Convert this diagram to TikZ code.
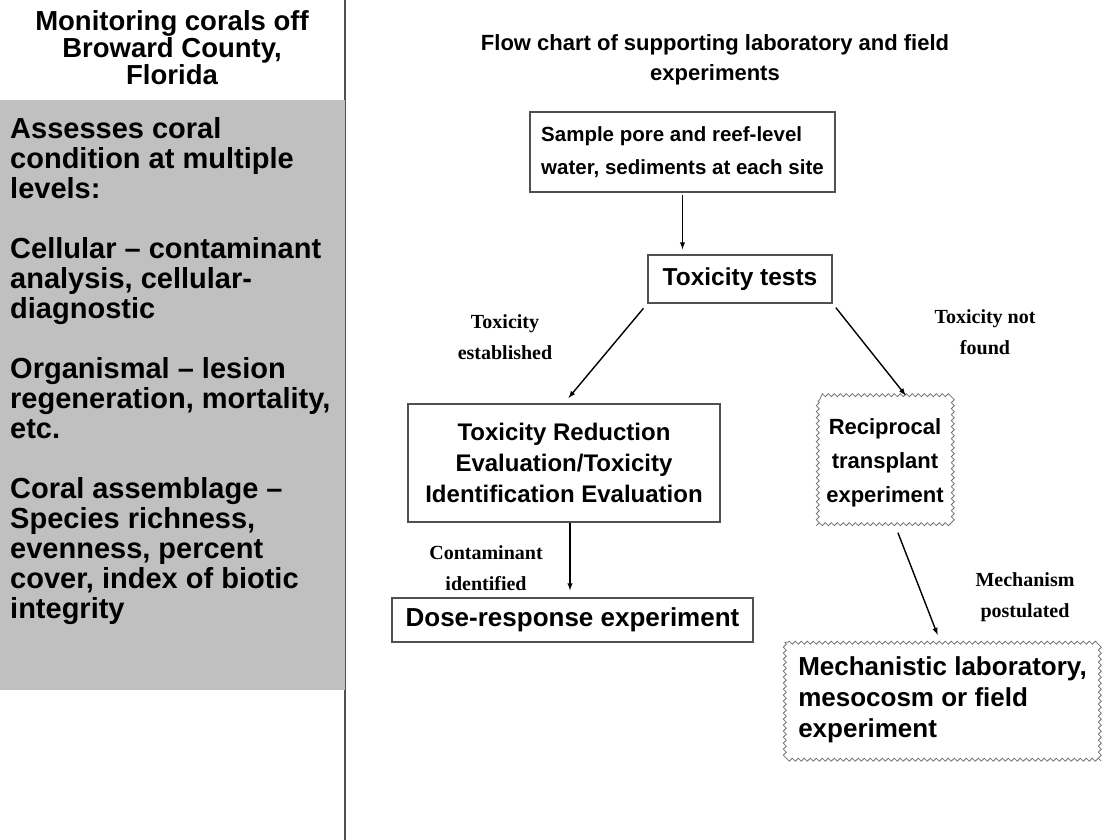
\documentclass[tikz,border=0pt]{standalone}
\usepackage{fontspec}
\setmainfont{Liberation Sans}
\newfontfamily\condfont{Liberation Serif}
\usetikzlibrary{arrows, positioning, decorations.pathmorphing}

\definecolor{panelgray}{RGB}{192,192,192}
\definecolor{edgegray}{RGB}{80,80,80}

\newcommand{\boxfont}[1]{\fontsize{#1}{31}\selectfont\bfseries}

\begin{document}
\begin{tikzpicture}[x=1pt, y=-1pt,
  plainbox/.style={draw=edgegray, line width=1.4pt, inner sep=0pt},
  wavybox/.style={inner sep=0pt},
  wavyedge/.style={draw=black!55, line width=0.8pt, decorate,
    decoration={snake, amplitude=1.5pt, segment length=6pt}},
  arr/.style={-latex, line width=1.4pt},
  cond/.style={font=\condfont\fontsize{20}{31}\selectfont\bfseries, align=center}]

  % page frame
  \useasboundingbox (0,0) rectangle (1105,840);

  % divider and grey panel
  \draw[edgegray, line width=1.5pt] (345,0) -- (345,840);
  \fill[panelgray] (0,100) rectangle (345,690);

  % left column
  \node[align=center, font=\fontsize{27.5}{27}\selectfont\bfseries] (monitor) at (172,48)
    {Monitoring corals off\\Broward County,\\Florida};
  \node[anchor=north west, align=left, inner sep=0pt,
        font=\fontsize{29}{30}\selectfont\bfseries] (levels) at (10,117)
    {Assesses coral\\condition at multiple\\levels:\\[30pt]
     Cellular -- contaminant\\analysis, cellular-\\diagnostic\\[30pt]
     Organismal -- lesion\\regeneration, mortality,\\etc.\\[30pt]
     Coral assemblage --\\Species richness,\\evenness, percent\\cover, index of biotic\\integrity};

  % right column title
  \node[align=center, font=\fontsize{22}{30}\selectfont\bfseries] (flowtitle) at (715,60)
    {Flow chart of supporting laboratory and field\\experiments};

  % boxes
  \node[plainbox, minimum width=305, minimum height=80, align=left,
        font=\fontsize{20.5}{33}\selectfont\bfseries] (sample) at (682.5,152)
    {Sample pore and reef-level\\water, sediments at each site};
  \node[plainbox, minimum width=184, minimum height=48, font=\boxfont{24.5}] (tox) at (740,279)
    {Toxicity tests};
  \node[plainbox, minimum width=312, minimum height=118, align=center,
        font=\boxfont{24}] (tre) at (564,463)
    {Toxicity Reduction\\Evaluation/Toxicity\\Identification Evaluation};
  \node[wavybox, minimum width=134, minimum height=124, align=center,
        font=\fontsize{22}{34}\selectfont\bfseries] (recip) at (885,463)
    {Reciprocal\\transplant\\experiment};
  \node[plainbox, minimum width=361, minimum height=44, font=\boxfont{26}] (dose) at (572.5,620)
    {Dose-response experiment};
  \node[wavybox, minimum width=315, minimum height=115, align=left,
        font=\boxfont{26}] (mech) at (942.5,700)
    {Mechanistic laboratory,\\mesocosm or field\\experiment};

  \draw[wavyedge] (recip.north west) rectangle (recip.south east);
  \draw[wavyedge] (mech.north west) rectangle (mech.south east);

  % connectors
  \draw[arr, shorten <=2pt, shorten >=5pt] (sample.south) -- (sample.south |- tox.north);
  \draw[arr, shorten <=6pt, shorten >=7pt] (tox.south west) -- (tre.north);
  \draw[arr, shorten <=5pt, shorten >=7pt] (tox.south east) -- ([xshift=25pt]recip.north);
  \draw[arr, shorten >=7pt] ([xshift=6pt]tre.south) -- ([xshift=6pt]tre.south |- dose.north);
  \draw[arr, shorten <=8pt, shorten >=8pt] ([xshift=10pt]recip.south) -- ([xshift=-2pt]mech.north);

  % conditions
  \node[cond] (established) at (505,337) {Toxicity\\established};
  \node[cond] (notfound) at (985,332) {Toxicity not\\found};
  \node[cond] (identified) at (486,568) {Contaminant\\identified};
  \node[cond] (postulated) at (1025,597) {Mechanism\\postulated};

\end{tikzpicture}
\end{document}
